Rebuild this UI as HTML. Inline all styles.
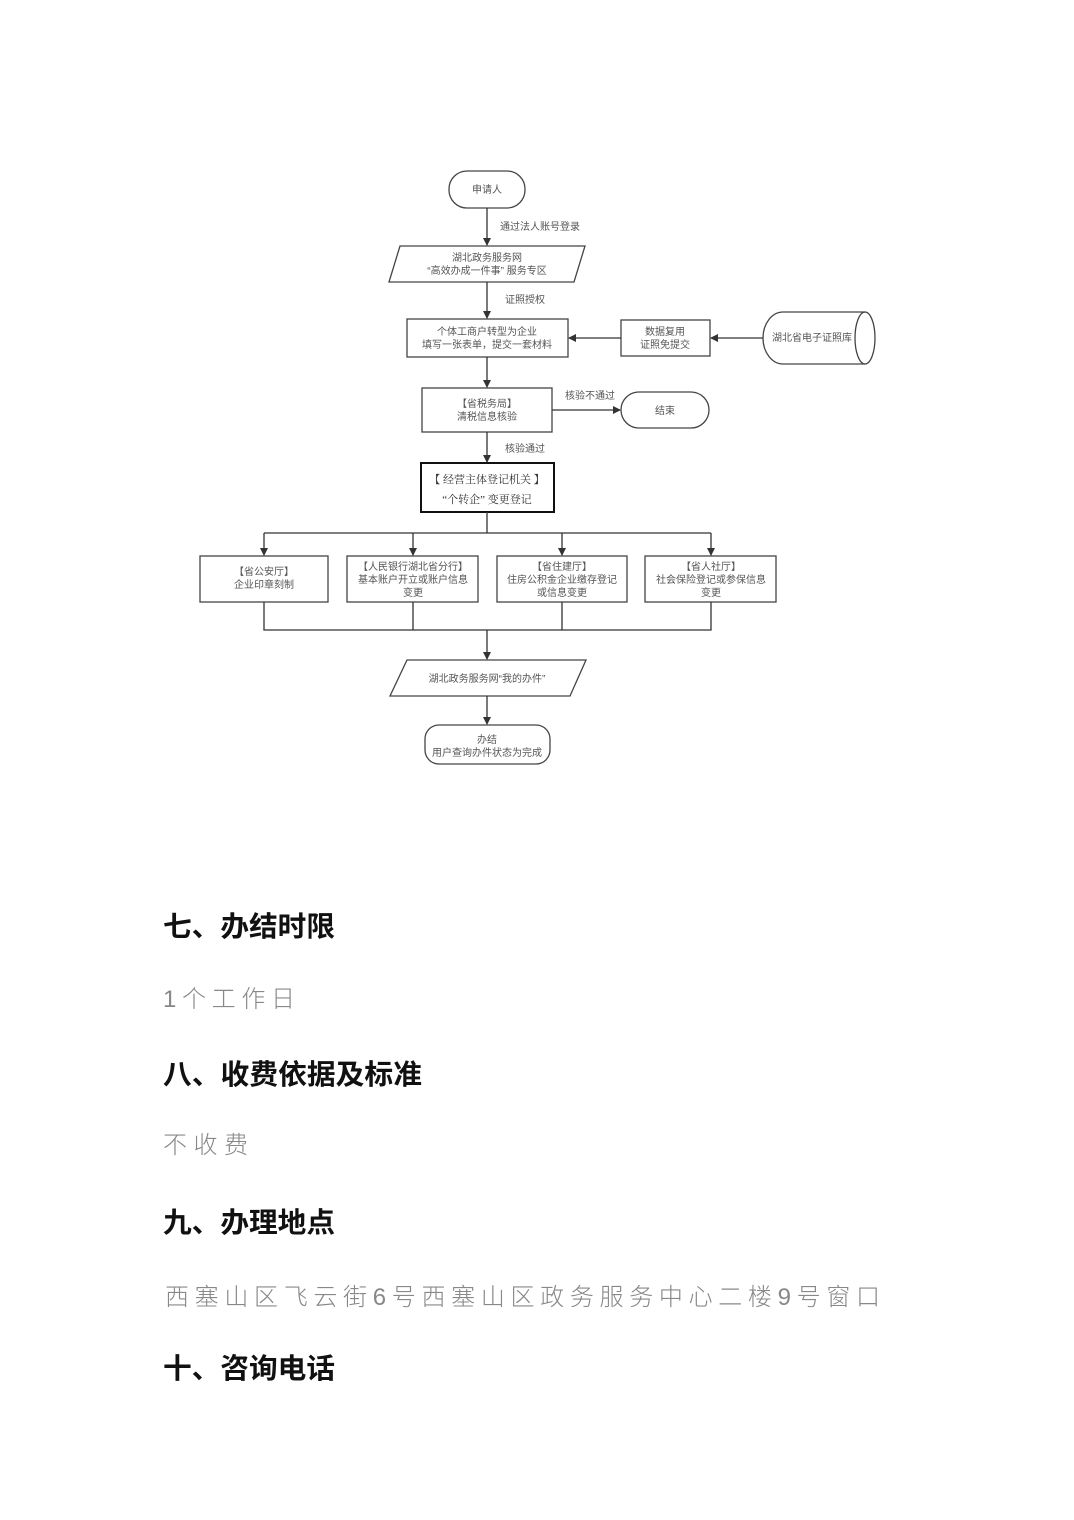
<!DOCTYPE html>
<html><head><meta charset="utf-8"><style>
html,body{margin:0;padding:0;background:#fff;}
svg{display:block;}
.f{font-family:"Liberation Sans","Noto Sans CJK SC",sans-serif;font-size:10px;fill:#555;}
.s{font-family:"Liberation Serif","Noto Serif CJK SC",serif;font-size:11px;fill:#333;}
.h{font-family:"Liberation Sans","Noto Sans CJK SC",sans-serif;font-size:28px;font-weight:bold;fill:#111;}
.b{font-family:"Liberation Sans","Noto Sans CJK SC",sans-serif;font-size:24px;fill:#888;font-weight:300;}
</style></head><body>
<svg width="1074" height="1520" viewBox="0 0 1074 1520" xmlns="http://www.w3.org/2000/svg">
<defs><marker id="a" markerWidth="8" markerHeight="8" refX="7" refY="4" orient="auto" markerUnits="userSpaceOnUse"><path d="M0,0 L8,4 L0,8 z" fill="#333"/></marker></defs>
<g stroke="#444" stroke-width="1.3" fill="none">
<rect x="449" y="171" width="76" height="37" rx="18"/>
<polygon points="400,246 585,246 574,282 389,282"/>
<rect x="407" y="319" width="161" height="38"/>
<rect x="621" y="320" width="89" height="36"/>
<path d="M783,312 L865,312 A10,26 0 0 1 865,364 L783,364 A20,26 0 0 1 783,312 Z"/>
<path d="M865,312 A10,26 0 0 0 865,364"/>
<rect x="422" y="388" width="130" height="44"/>
<rect x="621" y="392" width="88" height="36" rx="18"/>
<rect x="421" y="463" width="133" height="49" stroke="#111" stroke-width="2"/>
<rect x="200" y="556" width="128" height="46"/>
<rect x="347" y="556" width="131" height="46"/>
<rect x="497" y="556" width="130" height="46"/>
<rect x="645" y="556" width="131" height="46"/>
<polygon points="407,660 586,660 570,696 390,696"/>
<rect x="425" y="725" width="125" height="39" rx="14"/>
<g stroke="#333">
<line x1="487" y1="208" x2="487" y2="245" marker-end="url(#a)"/>
<line x1="487" y1="282" x2="487" y2="318" marker-end="url(#a)"/>
<line x1="763" y1="338" x2="711" y2="338" marker-end="url(#a)"/>
<line x1="621" y1="338" x2="569" y2="338" marker-end="url(#a)"/>
<line x1="487" y1="357" x2="487" y2="387" marker-end="url(#a)"/>
<line x1="552" y1="410" x2="620" y2="410" marker-end="url(#a)"/>
<line x1="487" y1="432" x2="487" y2="462" marker-end="url(#a)"/>
<line x1="487" y1="512" x2="487" y2="533"/>
<line x1="264" y1="533" x2="711" y2="533"/>
<line x1="264" y1="533" x2="264" y2="555" marker-end="url(#a)"/>
<line x1="413" y1="533" x2="413" y2="555" marker-end="url(#a)"/>
<line x1="562" y1="533" x2="562" y2="555" marker-end="url(#a)"/>
<line x1="711" y1="533" x2="711" y2="555" marker-end="url(#a)"/>
<path d="M264,602 V630 H711 V602 M413,602 V630 M562,602 V630"/>
<line x1="487" y1="630" x2="487" y2="659" marker-end="url(#a)"/>
<line x1="487" y1="696" x2="487" y2="724" marker-end="url(#a)"/>
</g></g>
<g class="f" text-anchor="middle">
<text x="487" y="193">申请人</text>
<text x="540" y="230">通过法人账号登录</text>
<text x="487" y="261">湖北政务服务网</text>
<text x="487" y="274">“高效办成一件事” 服务专区</text>
<text x="525" y="303">证照授权</text>
<text x="487" y="335">个体工商户转型为企业</text>
<text x="487" y="348">填写一张表单，提交一套材料</text>
<text x="665" y="335">数据复用</text>
<text x="665" y="348">证照免提交</text>
<text x="812" y="341">湖北省电子证照库</text>
<text x="487" y="407">【省税务局】</text>
<text x="487" y="420">清税信息核验</text>
<text x="590" y="399">核验不通过</text>
<text x="665" y="414">结束</text>
<text x="525" y="452">核验通过</text>
<text x="264" y="575">【省公安厅】</text>
<text x="264" y="588">企业印章刻制</text>
<text x="413" y="570">【人民银行湖北省分行】</text>
<text x="413" y="583">基本账户开立或账户信息</text>
<text x="413" y="596">变更</text>
<text x="562" y="570">【省住建厅】</text>
<text x="562" y="583">住房公积金企业缴存登记</text>
<text x="562" y="596">或信息变更</text>
<text x="711" y="570">【省人社厅】</text>
<text x="711" y="583">社会保险登记或参保信息</text>
<text x="711" y="596">变更</text>
<text x="487" y="682">湖北政务服务网“我的办件”</text>
<text x="487" y="743">办结</text>
<text x="487" y="756">用户查询办件状态为完成</text>
</g>
<g class="s" text-anchor="middle">
<text x="487" y="483">【 经营主体登记机关 】</text>
<text x="487" y="503">“个转企” 变更登记</text>
</g>
<text class="h" x="163" y="936" textLength="172" lengthAdjust="spacingAndGlyphs">七、办结时限</text>
<text class="b" x="163" y="1007" textLength="132" lengthAdjust="spacing">1个工作日</text>
<text class="h" x="163" y="1084" textLength="259" lengthAdjust="spacingAndGlyphs">八、收费依据及标准</text>
<text class="b" x="163" y="1153" textLength="85" lengthAdjust="spacing">不收费</text>
<text class="h" x="163" y="1232" textLength="172" lengthAdjust="spacingAndGlyphs">九、办理地点</text>
<text class="b" x="165" y="1305" textLength="715" lengthAdjust="spacing">西塞山区飞云街6号西塞山区政务服务中心二楼9号窗口</text>
<text class="h" x="163" y="1378" textLength="172" lengthAdjust="spacingAndGlyphs">十、咨询电话</text>
</svg>
</body></html>
